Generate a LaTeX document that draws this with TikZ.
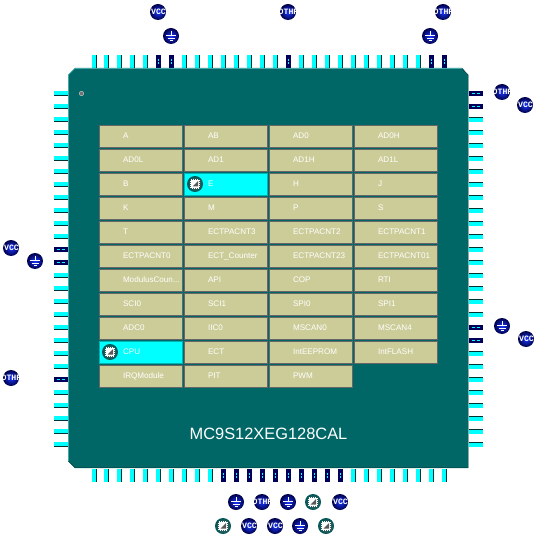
\documentclass[tikz,border=0pt]{standalone}
\usepackage{fontspec}
\setmainfont{Liberation Sans}
\newfontfamily\ballfont{Liberation Mono}
\usetikzlibrary{positioning}
\definecolor{mcuteal}{RGB}{0,102,102}
\definecolor{mculight}{RGB}{102,204,204}
\definecolor{mcudark}{RGB}{0,51,51}
\definecolor{mcukhaki}{RGB}{204,204,153}
\definecolor{mcugray}{RGB}{102,102,102}
\definecolor{mcucyan}{RGB}{0,255,255}
\definecolor{mcunavy}{RGB}{0,0,90}
\definecolor{mcublue}{RGB}{25,55,255}
\newcommand{\ballname}[1]{\makebox[0pt]{\hspace*{1pt}#1}}
\tikzset{
  modcell/.style={draw=mcugray, line width=0.9pt, fill=mcukhaki, outer sep=0pt, inner sep=0pt,
    minimum width=83pt, minimum height=22pt, text width=83pt, text height=6pt, text depth=1.5pt, align=left, text=white,
    font=\fontsize{8.1}{9.6}\selectfont, execute at begin node=\hspace*{23.5pt}},
  modon/.style={modcell, draw=mcucyan!70!black, fill=mcucyan},
  pinv/.style={rectangle, fill=mcucyan, minimum width=5pt, minimum height=13.5pt, inner sep=0pt, outer sep=0pt,
    path picture={\fill[mcudark] ([xshift=-1.2pt]path picture bounding box.north east) rectangle (path picture bounding box.south east);}},
  pinh/.style={rectangle, fill=mcucyan, minimum width=14pt, minimum height=4.6pt, inner sep=0pt, outer sep=0pt,
    path picture={\fill[mcudark] ([yshift=1pt]path picture bounding box.south west) rectangle (path picture bounding box.south east);}},
  pinr/.style={rectangle, fill=mcucyan, minimum width=14pt, minimum height=4.6pt, inner sep=0pt, outer sep=0pt,
    path picture={\fill[mcudark] ([yshift=-0.8pt]path picture bounding box.north west) rectangle (path picture bounding box.north east);}},
  pinvon/.style={rectangle, fill=mcunavy, minimum width=4.6pt, minimum height=13.5pt, inner sep=0pt, outer sep=0pt,
    path picture={\draw[mcucyan, line width=1.1pt, dash pattern=on 2pt off 1.2pt] ([yshift=2.6pt]path picture bounding box.center) -- ([yshift=-2.6pt]path picture bounding box.center);}},
  pinhon/.style={rectangle, fill=mcunavy, minimum width=14pt, minimum height=4.6pt, inner sep=0pt, outer sep=0pt,
    path picture={\draw[mcucyan, line width=1.1pt, dash pattern=on 3pt off 1.2pt] ([xshift=-3.6pt]path picture bounding box.center) -- ([xshift=3.6pt]path picture bounding box.center);}},
  netball/.style={circle, inner color=mcublue, outer color=mcunavy!80!black, minimum size=16pt, inner sep=0pt, outer sep=0pt,
    text=white, font=\ballfont\bfseries\fontsize{8.2}{9}\selectfont},
  gndball/.style={netball, path picture={
    \draw[white, line width=0.8pt] ([yshift=5pt]path picture bounding box.center) -- ([yshift=0.5pt]path picture bounding box.center)
      ([xshift=-5pt,yshift=0.5pt]path picture bounding box.center) -- ([xshift=5pt,yshift=0.5pt]path picture bounding box.center)
      ([xshift=-3.5pt,yshift=-2pt]path picture bounding box.center) -- ([xshift=3.5pt,yshift=-2pt]path picture bounding box.center)
      ([xshift=-1.5pt,yshift=-4.5pt]path picture bounding box.center) -- ([xshift=1.5pt,yshift=-4.5pt]path picture bounding box.center);}},
  cpuball/.style={circle, inner color=black!60, outer color=mcuteal!85!black, minimum size=16pt, inner sep=0pt, outer sep=0pt,
    path picture={
    \fill[white] ([xshift=-3.6pt,yshift=-3.6pt]path picture bounding box.center) rectangle ([xshift=3.6pt,yshift=3.6pt]path picture bounding box.center);
    \draw[white, line width=0.8pt, dash pattern=on 1pt off 1.2pt] ([xshift=-4.4pt,yshift=-4.4pt]path picture bounding box.center) rectangle ([xshift=4.4pt,yshift=4.4pt]path picture bounding box.center);
    \fill[black!65] ([xshift=3pt,yshift=3pt]path picture bounding box.center) -- ([xshift=-2.5pt,yshift=-2.5pt]path picture bounding box.center) -- ([xshift=3pt,yshift=-2.5pt]path picture bounding box.center) -- cycle;}},
  markdot/.style={circle, fill=black!55, draw=white!80!black, line width=0.4pt, minimum size=4.5pt, inner sep=0pt},
  chipname/.style={text=white, font=\fontsize{16.4}{18}\selectfont}
}

\begin{document}
\begin{tikzpicture}[x=1pt,y=-1pt]
        \useasboundingbox (0,0) rectangle (537,537);

        \foreach \i in {0,1,...,4,7,8,...,14,16,17,...,25} {
          \pgfmathsetmacro\px{93.5+13*\i+(\i==0)}
          \node[pinv] (ptop\i) at (\px,61.5) {};
        }
        \foreach \i in {5,6,15,26,27} \node[pinvon] (ptop\i) at (93.5+13*\i,61.5) {};
        \foreach \i in {0,1,...,9,20,21,...,27} {
          \pgfmathsetmacro\px{93.5+13*\i+(\i==0)}
          \node[pinv] (pbot\i) at (\px,475.5) {};
        }
        \foreach \i in {10,11,...,19} \node[pinvon] (pbot\i) at (93.5+13*\i,475.5) {};
        \foreach \i in {0,1,...,11,14,15,...,21,23,24,...,27} \node[pinh] (plft\i) at (61,93.5+13*\i) {};
        \foreach \i in {12,13,22} \node[pinhon] (plft\i) at (61,93.5+13*\i) {};
        \foreach \i in {2,3,...,17,20,21,...,27} \node[pinr] (prgt\i) at (476,93.5+13*\i) {};
        \foreach \i in {0,1,18,19} \node[pinhon] (prgt\i) at (476,93.5+13*\i) {};

        \fill[mcuteal] (75,68) -- (462,68) -- (468,75) -- (468,468) -- (75,468) -- (68,461) -- (68,75) -- cycle;
        \draw[mculight] (462,68.4) -- (75,68.4) -- (68.4,75) -- (68.4,461);
        \draw[mcudark] (68.4,461) -- (75,467.7) -- (468.2,467.7) -- (468.2,75) -- (462,68.4);

        \node[markdot] (dot) at (81.5,93.5) {};

        \node[modcell] (a) at (141,136.5) {A};
        \node[modcell,right=2pt of a] (ab) {AB};
        \node[modcell,right=2pt of ab] (ad0) {AD0};
        \node[modcell,right=2pt of ad0] (ad0h) {AD0H};
        \node[modcell,below=2pt of a] (ad0l) {AD0L};
        \node[modcell,right=2pt of ad0l] (ad1) {AD1};
        \node[modcell,right=2pt of ad1] (ad1h) {AD1H};
        \node[modcell,right=2pt of ad1h] (ad1l) {AD1L};
        \node[modcell,below=2pt of ad0l] (b) {B};
        \node[modon,right=2pt of b] (e) {E};
        \node[modcell,right=2pt of e] (h) {H};
        \node[modcell,right=2pt of h] (j) {J};
        \node[modcell,below=2pt of b] (k) {K};
        \node[modcell,right=2pt of k] (m) {M};
        \node[modcell,right=2pt of m] (p) {P};
        \node[modcell,right=2pt of p] (s) {S};
        \node[modcell,below=2pt of k] (t) {T};
        \node[modcell,right=2pt of t] (pacnt3) {ECTPACNT3};
        \node[modcell,right=2pt of pacnt3] (pacnt2) {ECTPACNT2};
        \node[modcell,right=2pt of pacnt2] (pacnt1) {ECTPACNT1};
        \node[modcell,below=2pt of t] (pacnt0) {ECTPACNT0};
        \node[modcell,right=2pt of pacnt0] (ectcnt) {ECT\_Counter};
        \node[modcell,right=2pt of ectcnt] (pacnt23) {ECTPACNT23};
        \node[modcell,right=2pt of pacnt23] (pacnt01) {ECTPACNT01};
        \node[modcell,below=2pt of pacnt0] (modcnt) {ModulusCoun...};
        \node[modcell,right=2pt of modcnt] (api) {API};
        \node[modcell,right=2pt of api] (cop) {COP};
        \node[modcell,right=2pt of cop] (rti) {RTI};
        \node[modcell,below=2pt of modcnt] (sci0) {SCI0};
        \node[modcell,right=2pt of sci0] (sci1) {SCI1};
        \node[modcell,right=2pt of sci1] (spi0) {SPI0};
        \node[modcell,right=2pt of spi0] (spi1) {SPI1};
        \node[modcell,below=2pt of sci0] (adc0) {ADC0};
        \node[modcell,right=2pt of adc0] (iic0) {IIC0};
        \node[modcell,right=2pt of iic0] (mscan0) {MSCAN0};
        \node[modcell,right=2pt of mscan0] (mscan4) {MSCAN4};
        \node[modon,below=2pt of adc0] (cpu) {CPU};
        \node[modcell,right=2pt of cpu] (ect) {ECT};
        \node[modcell,right=2pt of ect] (eeprom) {IntEEPROM};
        \node[modcell,right=2pt of eeprom] (flash) {IntFLASH};
        \node[modcell,below=2pt of cpu] (irq) {IRQModule};
        \node[modcell,right=2pt of irq] (pit) {PIT};
        \node[modcell,right=2pt of pit] (pwm) {PWM};

        \node[cpuball] (ecore) at (195,184) {};
        \node[cpuball] (cpucore) at (110,352) {};

        \node[chipname] (partno) at (268.5,433.5) {MC9S12XEG128CAL};

        \node[netball] (vcctop) at (158,12) {\ballname{VCC}};
        \node[gndball] (gndtop) at (171,36) {};
        \node[netball] (othtop) at (288,12) {\ballname{OTHR}};
        \node[netball] (othtopr) at (443,12) {\ballname{OTHR}};
        \node[gndball] (gndtopr) at (430,36) {};
        \node[netball] (othrgt) at (502,92) {\ballname{OTHR}};
        \node[netball] (vccrgt) at (525,105) {\ballname{VCC}};
        \node[gndball] (gndrgt) at (502,326) {};
        \node[netball] (vccrgtb) at (526,339) {\ballname{VCC}};
        \node[netball] (vcclft) at (11,248) {\ballname{VCC}};
        \node[gndball] (gndlft) at (35,261) {};
        \node[netball] (othlft) at (11,378) {\ballname{OTHR}};
        \node[gndball] (gndbota) at (236,502) {};
        \node[netball] (othbot) at (262,502) {\ballname{OTHR}};
        \node[gndball] (gndbotb) at (288,502) {};
        \node[cpuball] (cpubota) at (313,502) {};
        \node[netball] (vccbota) at (340,502) {\ballname{VCC}};
        \node[cpuball] (cpubotb) at (223,526) {};
        \node[netball] (vccbotb) at (249,526) {\ballname{VCC}};
        \node[netball] (vccbotc) at (275,526) {\ballname{VCC}};
        \node[gndball] (gndbotc) at (300,526) {};
        \node[cpuball] (cpubotc) at (326,526) {};
      \end{tikzpicture}
\end{document}
